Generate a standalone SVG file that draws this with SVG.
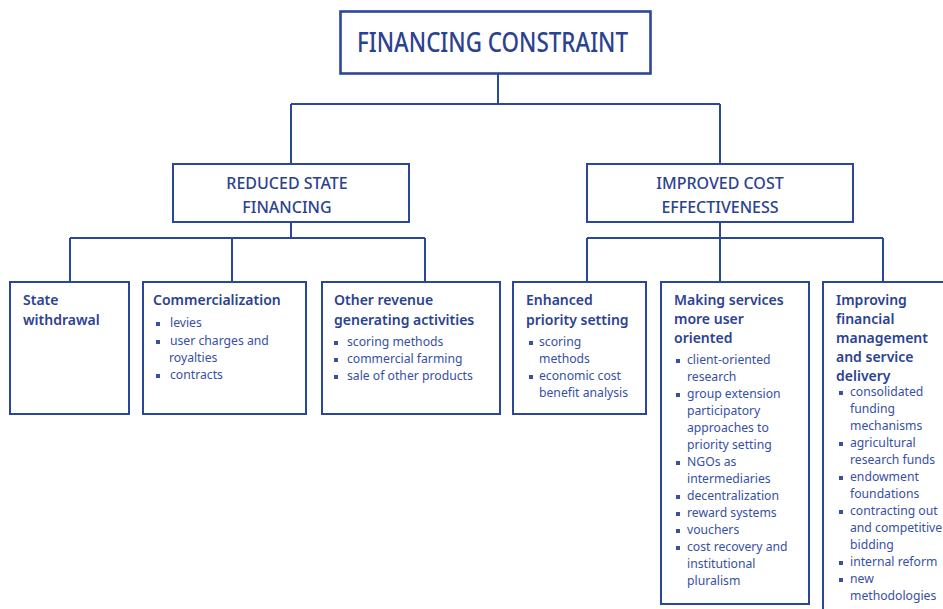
<svg xmlns="http://www.w3.org/2000/svg" width="943" height="609" viewBox="0 0 943 609">
<style>
.box{fill:#fff;stroke:#2b4799;stroke-width:2}
.con{fill:none;stroke:#2b4799;stroke-width:2}
text{font-family:"Noto Sans","Open Sans","DejaVu Sans",sans-serif;fill:#2b4291}
.t1{font-size:27px;font-weight:500}
.t2{font-size:16px;font-weight:500;text-anchor:middle}
.h{font-size:14px;font-weight:600}
.i{font-size:12.2px;fill:#3650a3}
.b{fill:#3650a3}
</style>
<rect width="943" height="609" fill="#fff"/>
<g id="connectors">
<path class="con" d="M498 73V104M291 104H720M291 104V164M720 104V164"/>
<path class="con" d="M291 222V238M70 238H425M70 238V282M232 238V282M425 238V282"/>
<path class="con" d="M720 222V282M587 238H883M587 238V282M883 238V282"/>
</g>
<g id="financing-constraint">
<rect class="box" x="340.5" y="11.5" width="310" height="62" style="stroke-width:2.6"/>
<text class="t1" x="357" y="52" textLength="271" lengthAdjust="spacingAndGlyphs">FINANCING CONSTRAINT</text>
</g>
<g id="reduced-state-financing">
<rect class="box" x="173" y="164" width="236" height="58"/>
<text class="t2" x="287" y="189">REDUCED STATE</text>
<text class="t2" x="287" y="213">FINANCING</text>
</g>
<g id="improved-cost-effectiveness">
<rect class="box" x="587" y="164" width="266" height="58"/>
<text class="t2" x="720" y="189">IMPROVED COST</text>
<text class="t2" x="720" y="213">EFFECTIVENESS</text>
</g>
<g id="state-withdrawal">
<rect class="box" x="10" y="282" width="119" height="132"/>
<text class="h" x="23" y="305">State</text>
<text class="h" x="23" y="325">withdrawal</text>
</g>
<g id="commercialization">
<rect class="box" x="143" y="282" width="163" height="132"/>
<text class="h" x="153" y="305">Commercialization</text>
<rect class="b" x="156" y="322" width="4" height="4"/>
<text class="i" x="170" y="327">levies</text>
<rect class="b" x="156" y="340" width="4" height="4"/>
<text class="i" x="170" y="345">user charges and</text>
<text class="i" x="169" y="362">royalties</text>
<rect class="b" x="156" y="374" width="4" height="4"/>
<text class="i" x="170" y="379">contracts</text>
</g>
<g id="other-revenue">
<rect class="box" x="322" y="282" width="178" height="132"/>
<text class="h" x="334" y="305">Other revenue</text>
<text class="h" x="334" y="325">generating activities</text>
<rect class="b" x="334" y="341" width="4" height="4"/>
<text class="i" x="347" y="346">scoring methods</text>
<rect class="b" x="334" y="358" width="4" height="4"/>
<text class="i" x="347" y="363">commercial farming</text>
<rect class="b" x="334" y="375" width="4" height="4"/>
<text class="i" x="347" y="380">sale of other products</text>
</g>
<g id="enhanced-priority-setting">
<rect class="box" x="513" y="282" width="133" height="132"/>
<text class="h" x="526" y="305">Enhanced</text>
<text class="h" x="526" y="325">priority setting</text>
<rect class="b" x="529" y="341" width="4" height="4"/>
<text class="i" x="539" y="346">scoring</text>
<text class="i" x="539" y="363">methods</text>
<rect class="b" x="529" y="375" width="4" height="4"/>
<text class="i" x="539" y="380">economic cost</text>
<text class="i" x="539" y="397">benefit analysis</text>
</g>
<g id="making-services">
<rect class="box" x="661" y="282" width="148" height="322"/>
<text class="h" x="674" y="305">Making services</text>
<text class="h" x="674" y="324">more user</text>
<text class="h" x="674" y="343">oriented</text>
<rect class="b" x="676" y="359" width="4" height="4"/>
<text class="i" x="687" y="364">client-oriented</text>
<text class="i" x="687" y="381">research</text>
<rect class="b" x="676" y="393" width="4" height="4"/>
<text class="i" x="687" y="398">group extension</text>
<text class="i" x="687" y="415">participatory</text>
<text class="i" x="687" y="432">approaches to</text>
<text class="i" x="687" y="449">priority setting</text>
<rect class="b" x="676" y="461" width="4" height="4"/>
<text class="i" x="687" y="466">NGOs as</text>
<text class="i" x="687" y="483">intermediaries</text>
<rect class="b" x="676" y="495" width="4" height="4"/>
<text class="i" x="687" y="500">decentralization</text>
<rect class="b" x="676" y="512" width="4" height="4"/>
<text class="i" x="687" y="517">reward systems</text>
<rect class="b" x="676" y="529" width="4" height="4"/>
<text class="i" x="687" y="534">vouchers</text>
<rect class="b" x="676" y="546" width="4" height="4"/>
<text class="i" x="687" y="551">cost recovery and</text>
<text class="i" x="687" y="568">institutional</text>
<text class="i" x="687" y="585">pluralism</text>
</g>
<g id="improving-financial-management">
<rect class="box" x="823" y="282" width="140" height="340"/>
<text class="h" x="836" y="305">Improving</text>
<text class="h" x="836" y="324">financial</text>
<text class="h" x="836" y="343">management</text>
<text class="h" x="836" y="362">and service</text>
<text class="h" x="836" y="381">delivery</text>
<rect class="b" x="839" y="391" width="4" height="4"/>
<text class="i" x="850" y="396">consolidated</text>
<text class="i" x="850" y="413">funding</text>
<text class="i" x="850" y="430">mechanisms</text>
<rect class="b" x="839" y="442" width="4" height="4"/>
<text class="i" x="850" y="447">agricultural</text>
<text class="i" x="850" y="464">research funds</text>
<rect class="b" x="839" y="476" width="4" height="4"/>
<text class="i" x="850" y="481">endowment</text>
<text class="i" x="850" y="498">foundations</text>
<rect class="b" x="839" y="510" width="4" height="4"/>
<text class="i" x="850" y="515">contracting out</text>
<text class="i" x="850" y="532">and competitive</text>
<text class="i" x="850" y="549">bidding</text>
<rect class="b" x="839" y="561" width="4" height="4"/>
<text class="i" x="850" y="566">internal reform</text>
<rect class="b" x="839" y="578" width="4" height="4"/>
<text class="i" x="850" y="583">new</text>
<text class="i" x="850" y="600">methodologies</text>
</g>
</svg>
